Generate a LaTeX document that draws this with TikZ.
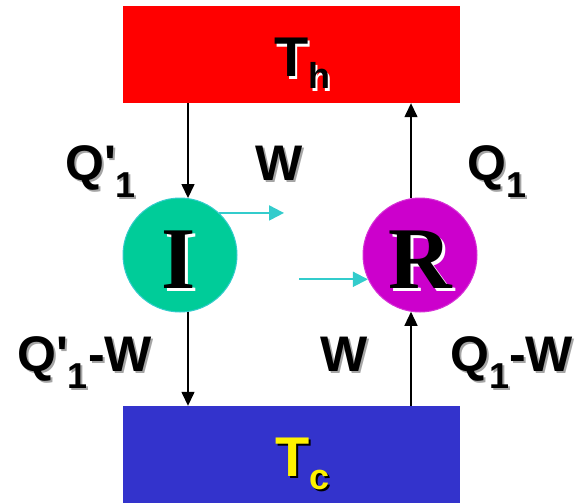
\documentclass[tikz,border=0pt]{standalone}
\usepackage{fontspec}
\usetikzlibrary{arrows.meta}
\newfontfamily\lsans{Liberation Sans}
\newfontfamily\lserif{Liberation Serif}
\definecolor{hotc}{RGB}{255,0,0}
\definecolor{coldc}{RGB}{51,51,204}
\definecolor{engc}{RGB}{0,204,153}
\definecolor{refc}{RGB}{204,0,204}
\definecolor{cync}{RGB}{51,204,204}
\definecolor{shgrey}{RGB}{165,165,165}
\newcommand\shadowed[4]{\leavevmode\rlap{\kern#4\raisebox{-#4}{\color{#2}#3}}{\color{#1}#3}}
\newcommand\lsub[1]{{\fontsize{36}{36}\selectfont\raisebox{-17pt}{#1}}}
\begin{document}
\begin{tikzpicture}[x=1pt,y=-1pt,
  reservoir/.style={rectangle,draw=none,minimum width=337pt,minimum height=97pt,inner sep=0pt},
  machine/.style={circle,minimum size=114pt,inner sep=0pt,line width=1pt},
  label/.style={anchor=base west,inner sep=0pt,font=\lsans\bfseries\fontsize{50}{50}\selectfont},
  heat/.style={line width=1.4pt,-{Triangle[length=14pt,width=13pt]}},
  work/.style={line width=2pt,cync,-{Triangle[length=15pt,width=15pt]}}]
\useasboundingbox (0,0) rectangle (578,503);
\node[reservoir,fill=hotc] (hot) at (291.5,54.5) {};
\node[reservoir,fill=coldc] (cold) at (291.5,454.5) {};
\node[machine,fill=engc,draw=cync] (I) at (180,255) {};
\node[machine,fill=refc,draw=refc!80!white] (R) at (420,255) {};
% reservoir labels
\node[anchor=base west,inner sep=0pt] (th) at (274,77) {\lsans\bfseries\shadowed{black}{white}{\fontsize{56}{56}\selectfont T{\fontsize{36}{36}\selectfont\raisebox{-12pt}{h}}}{2pt}};
\node[anchor=base west,inner sep=0pt] (tc) at (275,476) {\lsans\bfseries\shadowed{yellow}{black}{\fontsize{56}{56}\selectfont T{\fontsize{36}{36}\selectfont\raisebox{-13pt}{c}}}{2pt}};
% machine letters
\node[anchor=base,inner sep=0pt] (il) at (179,288) {\lserif\bfseries\fontsize{88}{88}\selectfont\shadowed{black}{white}{I}{3pt}};
\node[anchor=base,inner sep=0pt] (rl) at (420,288) {\lserif\bfseries\fontsize{88}{88}\selectfont\shadowed{black}{white}{R}{3pt}};
% heat arrows
\draw[heat] (I.82 |- hot.south) -- (I.82);
\draw[heat] (I.-82) -- (I.-82 |- cold.north);
\draw[heat] (R.99) -- (R.99 |- hot.south);
\draw[heat] (R.-99 |- cold.north) -- (R.-99);
% work arrows
\coordinate (w1) at (284,214);
\coordinate (w2) at (299,279);
\draw[work] (I.47) -- (w1 |- I.47);
\draw[work] (w2 |- R.205) -- (R.205);
% labels
\node[label] (q1p) at (65,180) {\shadowed{black}{shgrey}{Q\textquotesingle\lsub{1}}{2pt}};
\node[label] (wt) at (255,180) {\shadowed{black}{shgrey}{W}{2pt}};
\node[label] (q1) at (467,180) {\shadowed{black}{shgrey}{Q\lsub{1}}{2pt}};
\node[label] (q1pw) at (17,371) {\shadowed{black}{shgrey}{Q\textquotesingle\lsub{1}-W}{2pt}};
\node[label] (wb) at (320,371) {\shadowed{black}{shgrey}{W}{2pt}};
\node[label] (q1w) at (450,371) {\shadowed{black}{shgrey}{Q\lsub{1}-W}{2pt}};
\end{tikzpicture}
\end{document}
